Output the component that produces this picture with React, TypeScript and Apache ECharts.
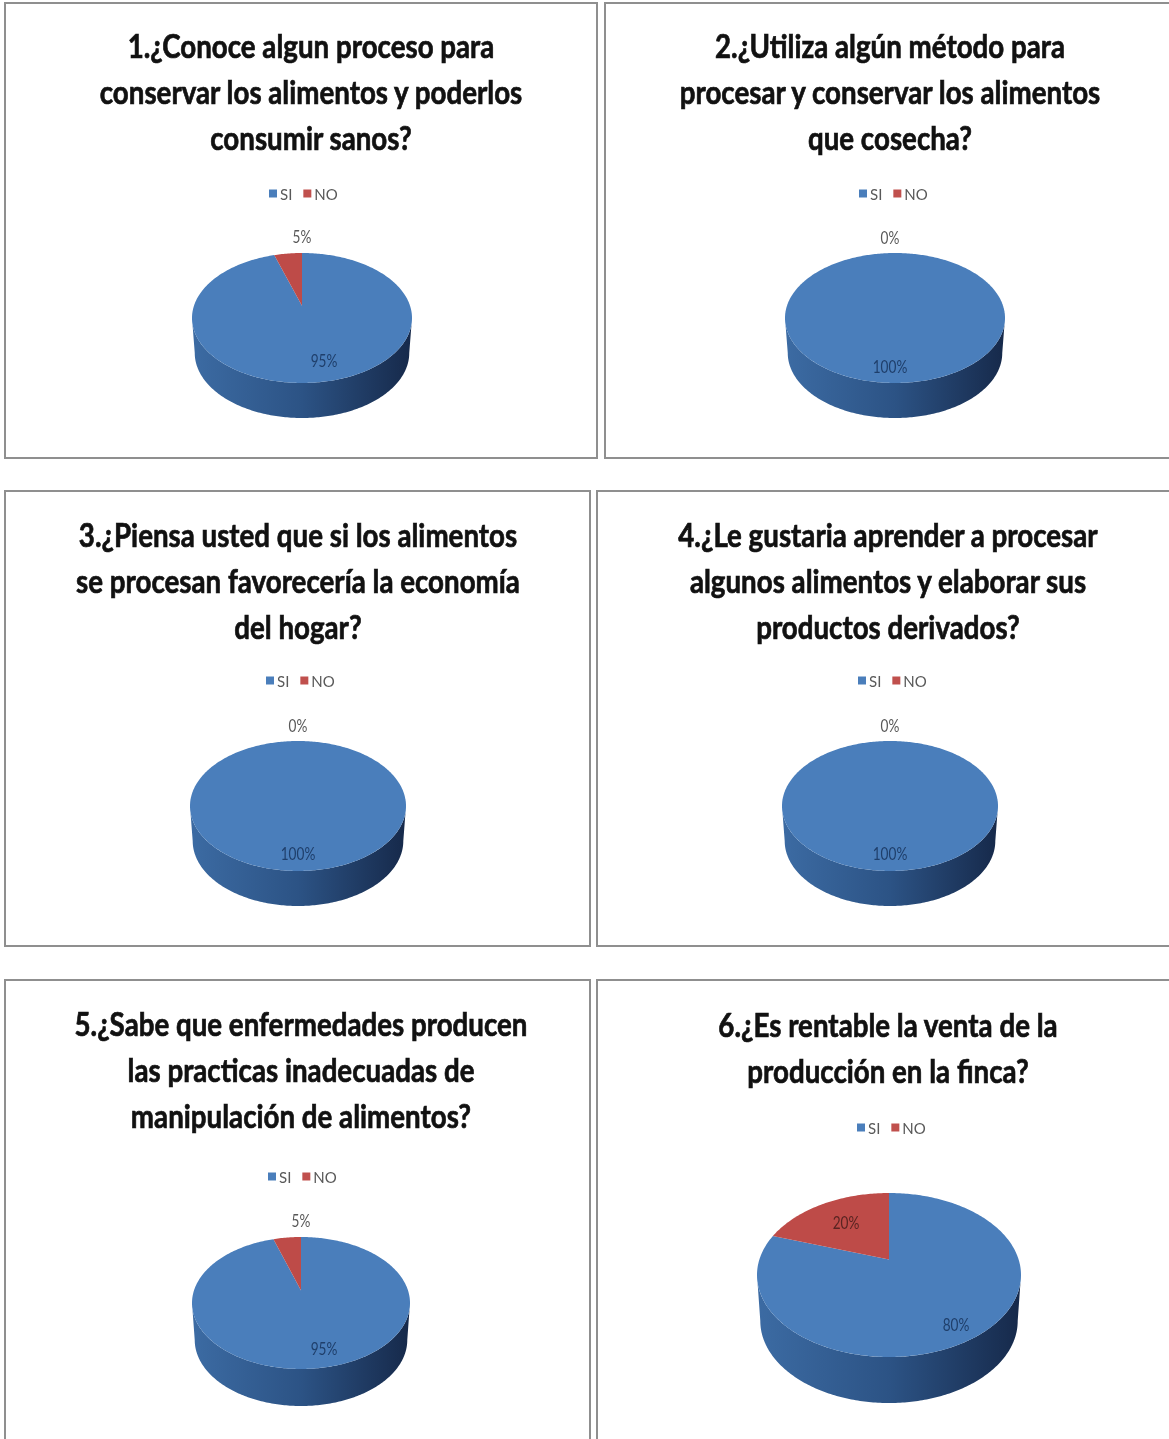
import React, { useEffect, useRef } from "react";
import * as echarts from "echarts";

const categories = ["SI", "NO"];
const siValues = [95, 100, 100, 100, 95, 80];
const noValues = [5, 0, 0, 0, 5, 20];
const questions = [
  "1.¿Conoce algun proceso para\nconservar los alimentos y poderlos\nconsumir sanos?",
  "2.¿Utiliza algún método para\nprocesar y conservar los alimentos\nque cosecha?",
  "3.¿Piensa usted que si los alimentos\nse procesan favorecería la economía\ndel hogar?",
  "4.¿Le gustaria aprender a procesar\nalgunos alimentos y elaborar sus\nproductos derivados?",
  "5.¿Sabe que enfermedades producen\nlas practicas inadecuadas de\nmanipulación de alimentos?",
  "6.¿Es rentable la venta de la\nproducción en la finca?",
];

// Layout only: frame, title, legend and pie geometry of each panel.
const panels = [
  { x: 5, y: 3, w: 592, h: 455, tx: 311, ty: 91, lx: 269, ly: 186, cx: 302, cy: 318, rx: 110, ry: 65, d: 35, si: [22, 42], no: [0, -82] },
  { x: 605, y: 3, w: 580, h: 455, tx: 890, ty: 91, lx: 859, ly: 186, cx: 895, cy: 318, rx: 110, ry: 65, d: 35, si: [-5, 48], no: [-5, -81] },
  { x: 5, y: 491, w: 585, h: 455, tx: 298, ty: 580, lx: 266, ly: 673, cx: 298, cy: 806, rx: 108, ry: 65, d: 35, si: [0, 47], no: [0, -81] },
  { x: 597, y: 491, w: 590, h: 455, tx: 888, ty: 580, lx: 858, ly: 673, cx: 890, cy: 806, rx: 108, ry: 65, d: 35, si: [0, 47], no: [0, -81] },
  { x: 5, y: 980, w: 585, h: 480, tx: 301, ty: 1069, lx: 268, ly: 1169, cx: 301, cy: 1303, rx: 109, ry: 66, d: 37, si: [23, 45], no: [0, -83] },
  { x: 597, y: 980, w: 590, h: 480, tx: 888, ty: 1047, lx: 857, ly: 1120, cx: 889, cy: 1275, rx: 132, ry: 82, d: 46, si: [67, 49], no: [-43, -53] },
];

const FONT = 'Lato, "Liberation Sans", sans-serif';
const TOP_COLORS = ["#4a7ebb", "#be4b48"];
const APEX_LIFT = 0.19; // perspective: the pie's apex sits above the ellipse centre
const FAR_SCALE = 0.975; // perspective: the lower rim is slightly narrower

// Plain ellipse point, used for the side wall's outline.
const point = (p: any, deg: number, dy = 0, sx = 1) => {
  const a = (deg * Math.PI) / 180;
  return [p.cx + p.rx * sx * Math.sin(a), p.cy - p.ry * Math.cos(a) + dy];
};

// Point where the ray leaving the lifted apex at this pie angle meets the rim.
const rim = (p: any, deg: number) => {
  const a = (deg * Math.PI) / 180;
  const ux = Math.sin(a);
  const uy = -Math.cos(a);
  const y0 = -APEX_LIFT;
  const b = y0 * uy;
  const t = -b + Math.sqrt(b * b - (y0 * y0 - 1));
  return [p.cx + p.rx * ux * t, p.cy + p.ry * (y0 + uy * t)];
};

const sliceItem = (p: any, catIndex: number) => (_: any, api: any) => {
  const value = api.value(0);
  const start = api.value(1);
  const total = api.value(2);
  const a0 = (start / total) * 360;
  const a1 = ((start + value) / total) * 360;
  const children: any[] = [];
  const wall0 = Math.max(a0, 90);
  const wall1 = Math.min(a1, 270);
  if (wall1 > wall0) {
    const pts: number[][] = [];
    for (let a = wall0; a <= wall1; a += 1) pts.push(point(p, a));
    for (let a = wall1; a >= wall0; a -= 1) pts.push(point(p, a, p.d, FAR_SCALE));
    children.push({
      type: "polygon",
      shape: { points: pts },
      style: {
        fill: new echarts.graphic.LinearGradient(0, 0, 1, 0, [
          { offset: 0, color: "#3c6ba3" },
          { offset: 0.5, color: "#2c5385" },
          { offset: 1, color: "#16294a" },
        ]),
      },
    });
  }
  if (value > 0) {
    const pts: number[][] = value < total ? [[p.cx, p.cy - APEX_LIFT * p.ry]] : [];
    for (let a = a0; a <= a1; a += 1) pts.push(rim(p, a));
    children.push({
      type: "polygon",
      shape: { points: pts },
      style: { fill: TOP_COLORS[catIndex] },
    });
  }
  const off = catIndex === 0 ? p.si : p.no;
  const inside = value > 0 && (catIndex === 0 || value >= 20);
  children.push({
    type: "text",
    z2: 10,
    x: p.cx + off[0],
    y: p.cy + off[1],
    scaleX: 0.8,
    style: {
      text: `${value}%`,
      x: 0,
      y: 0,
      fill: inside ? (catIndex === 0 ? "#1f3f6b" : "#5a2422") : "#595959",
      font: `17px ${FONT}`,
      textAlign: "center",
      textVerticalAlign: "middle",
    },
  });
  return { type: "group", children };
};

const buildOption = () => ({
  animation: false,
  backgroundColor: "#ffffff",
  legend: panels.map((p) => ({
    data: categories,
    left: p.lx,
    top: p.ly,
    padding: 0,
    icon: "rect",
    itemWidth: 8,
    itemHeight: 8,
    itemGap: 11,
    textStyle: { fontFamily: FONT, fontSize: 15, color: "#595959", padding: [0, 0, 0, -2] },
    selectedMode: false,
  })),
  graphic: {
    elements: [
      ...panels.map((p) => ({
        type: "rect",
        z: -10,
        silent: true,
        shape: { x: p.x, y: p.y, width: p.w, height: p.h },
        style: { fill: "#ffffff", stroke: "#8f8f8f", lineWidth: 2 },
      })),
      ...panels.map((p, i) => ({
        type: "text",
        silent: true,
        x: p.tx,
        y: p.ty,
        scaleX: 0.84,
        style: {
          text: questions[i],
          x: 0,
          y: 0,
          font: `bold 33px ${FONT}`,
          lineHeight: 46,
          fill: "#111111",
          stroke: "#111111",
          lineWidth: 0.7,
          textAlign: "center",
          textVerticalAlign: "middle",
        },
      })),
    ],
  },
  series: panels.flatMap((p, i) => {
    const total = siValues[i] + noValues[i];
    return [
      {
        type: "custom",
        name: categories[0],
        coordinateSystem: "none",
        itemStyle: { color: "#4a7ebb" },
        data: [[siValues[i], 0, total]],
        renderItem: sliceItem(p, 0),
      },
      {
        type: "custom",
        name: categories[1],
        coordinateSystem: "none",
        itemStyle: { color: "#c0504d" },
        data: [[noValues[i], siValues[i], total]],
        renderItem: sliceItem(p, 1),
      },
    ];
  }),
});

export default function App() {
  const ref = useRef<HTMLDivElement>(null);
  useEffect(() => {
    document.body.style.margin = "0";
    const chart = echarts.init(ref.current!, null, { renderer: "svg" });
    chart.setOption(buildOption() as any);
    return () => chart.dispose();
  }, []);
  return <div ref={ref} style={{ width: 1169, height: 1439, overflow: "hidden", filter: "blur(0.5px)" }} />;
}
